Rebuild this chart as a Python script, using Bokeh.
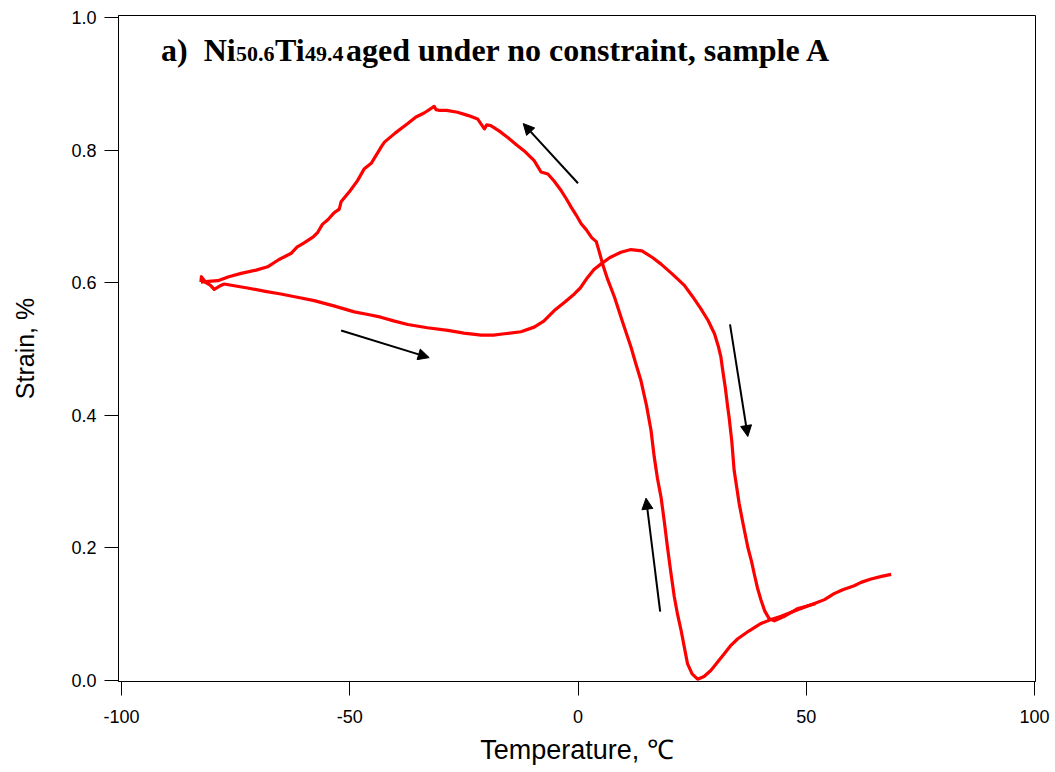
from bokeh.plotting import figure
from bokeh.models import Range1d, Label, Arrow, NormalHead, FixedTicker
from bokeh.embed import file_html
from bokeh.resources import INLINE

# Cooling branch (from high temperature back to low)
cool_T = [68.6, 66.5, 64.2, 62.0, 60.5, 58.0, 56.1, 54.0, 51.8, 49.0, 46.7, 44.5, 42.3,
          40.1, 37.5, 35.0, 33.5, 32.0, 30.5, 29.1, 27.6, 26.2, 25.0, 24.0, 23.3, 22.6,
          21.8, 21.1, 20.3, 19.6, 18.9, 18.2, 17.4, 16.7, 16.0, 15.0, 13.8, 12.7, 11.6,
          9.8, 8.0, 6.5, 5.4, 4.6, 4.0, 3.0, 1.8, 0.7, -0.4, -1.5, -2.6, -3.7, -5.2, -6.6,
          -8.1, -9.6, -11.5, -13.5, -15.4, -17.3, -19.1, -20.0, -20.5, -22.0, -24.0,
          -26.4, -28.8, -30.5, -31.1, -31.5, -33.7, -35.5, -37.3, -40.0, -42.4, -43.0,
          -45.3, -46.8, -48.3, -50.0, -51.9, -52.3, -53.5, -54.8, -56.0, -57.0, -58.0,
          -60.0, -61.5, -62.9, -65.5, -68.0, -70.5, -73.8, -76.5, -78.9, -81.0, -82.6]
cool_S = [0.160, 0.157, 0.153, 0.148, 0.143, 0.137, 0.131, 0.122, 0.116, 0.109, 0.103,
          0.097, 0.092, 0.086, 0.075, 0.063, 0.053, 0.040, 0.027, 0.015, 0.006, 0.002,
          0.010, 0.025, 0.050, 0.075, 0.100, 0.126, 0.165, 0.201, 0.240, 0.276, 0.305,
          0.337, 0.377, 0.415, 0.452, 0.477, 0.503, 0.540, 0.578, 0.605, 0.628, 0.648,
          0.662, 0.668, 0.680, 0.689, 0.702, 0.714, 0.727, 0.739, 0.753, 0.764, 0.767,
          0.784, 0.797, 0.808, 0.819, 0.829, 0.837, 0.838, 0.832, 0.847, 0.852, 0.857,
          0.860, 0.860, 0.861, 0.866, 0.856, 0.850, 0.840, 0.826, 0.812, 0.806, 0.780,
          0.772, 0.754, 0.738, 0.722, 0.711, 0.705, 0.695, 0.688, 0.676, 0.669, 0.660,
          0.654, 0.644, 0.635, 0.624, 0.619, 0.614, 0.609, 0.603, 0.602, 0.601]

# Heating branch (from low temperature up to high)
heat_T = [-82.6, -82.5, -81.5, -80.5, -79.7, -78.5, -77.5, -75.0, -72.4, -68.5, -65.1,
          -61.5, -57.8, -53.5, -49.0, -46.0, -43.2, -40.2, -37.3, -33.0, -28.5, -25.0,
          -21.2, -18.5, -16.1, -12.5, -9.6, -7.5, -5.2, -3.0, -0.8, 0.5, 2.1, 3.5, 5.0,
          7.0, 9.4, 11.6, 14.0, 16.3, 18.2, 20.5, 23.3, 25.0, 26.9, 28.5, 29.9, 30.7,
          31.3, 31.7, 32.3, 32.8, 33.1, 33.7, 34.2, 34.8, 35.3, 36.2, 37.2, 38.0, 38.6,
          39.3, 40.1, 40.9, 41.9, 43.0, 45.0, 47.0, 48.0, 50.0, 52.0]
heat_S = [0.601, 0.609, 0.600, 0.596, 0.590, 0.595, 0.598, 0.595, 0.592, 0.587, 0.583,
          0.578, 0.573, 0.565, 0.556, 0.552, 0.548, 0.542, 0.537, 0.532, 0.528, 0.524,
          0.521, 0.521, 0.523, 0.526, 0.533, 0.542, 0.558, 0.570, 0.583, 0.592, 0.608,
          0.620, 0.628, 0.638, 0.646, 0.650, 0.648, 0.638, 0.628, 0.614, 0.596, 0.580,
          0.561, 0.543, 0.523, 0.505, 0.488, 0.468, 0.440, 0.412, 0.397, 0.360, 0.317,
          0.290, 0.267, 0.235, 0.201, 0.180, 0.161, 0.140, 0.121, 0.105, 0.093, 0.090,
          0.096, 0.104, 0.108, 0.112, 0.116]

# Direction arrows: (tail T, tail S, head T, head S)
arrows = [(0.0, 0.750, -12.0, 0.840),
          (-51.9, 0.528, -32.6, 0.487),
          (33.3, 0.537, 37.2, 0.368),
          (18.0, 0.104, 14.9, 0.275)]

x_ticks = [-100, -50, 0, 50, 100]
x_tick_labels = ["-100", "-50", "0", "50", "100"]
y_ticks = [0.0, 0.2, 0.4, 0.6, 0.8, 1.0]
y_tick_labels = ["0.0", "0.2", "0.4", "0.6", "0.8", "1.0"]

p = figure(width=1055, height=772, output_backend="svg", toolbar_location=None,
           x_range=Range1d(-100.66, 100.22), y_range=Range1d(-0.0015, 1.003),
           min_border_left=118, min_border_right=20, min_border_top=15, min_border_bottom=91)
p.grid.visible = False
p.outline_line_color = "black"
p.outline_line_width = 1
p.background_fill_color = "white"
p.border_fill_color = "white"

p.line(cool_T, cool_S, line_color="#ff0000", line_width=3.2, line_join="round")
p.line(heat_T, heat_S, line_color="#ff0000", line_width=3.2, line_join="round")

for (x0, y0, x1, y1) in arrows:
    p.add_layout(Arrow(x_start=x0, y_start=y0, x_end=x1, y_end=y1, line_width=2,
                       line_color="black",
                       end=NormalHead(size=11, fill_color="black", line_color="black")))

for ax in (p.xaxis[0], p.yaxis[0]):
    ax.minor_tick_line_color = None
    ax.major_tick_out = 14
    ax.major_tick_in = 0
    ax.major_tick_line_color = "black"
    ax.axis_line_color = "black"
    ax.major_label_text_font = "Liberation Sans"
    ax.major_label_text_font_size = "18px"
    ax.major_label_text_color = "black"
    ax.axis_label_text_font = "Liberation Sans"
    ax.axis_label_text_font_style = "normal"
    ax.axis_label_text_color = "black"

p.xaxis.ticker = FixedTicker(ticks=x_ticks)
p.yaxis.ticker = FixedTicker(ticks=y_ticks)
p.xaxis.major_label_overrides = dict(zip(x_ticks, x_tick_labels))
p.yaxis.major_label_overrides = dict(zip(y_ticks, y_tick_labels))
p.xaxis.major_label_standoff = 14
p.yaxis.major_label_standoff = 8
p.xaxis.axis_label = "Temperature, \u2103"
p.yaxis.axis_label = "Strain, %"
p.xaxis.axis_label_text_font_size = "27px"
p.yaxis.axis_label_text_font_size = "25px"
p.xaxis.axis_label_standoff = 9
p.yaxis.axis_label_standoff = 29

# Title pieces (with subscripts)
def px2T(px):
    return (px - 577) / 4.565

base = 0.951
sub = base - 0.006
pieces = [("a)\u00a0\u00a0Ni", 160, base, 32),
          ("50.6", 235, sub, 22),
          ("Ti", 274, base, 32),
          ("49.4", 304, sub, 22),
          ("aged under no constraint, sample A", 345, base, 32)]
for txt, px, yy, fs in pieces:
    p.add_layout(Label(x=px2T(px), y=yy, text=txt, text_font="Liberation Serif",
                       text_font_style="bold", text_font_size=f"{fs}px",
                       text_color="black", text_baseline="alphabetic", text_align="left"))

open("out.html", "w").write(file_html(p, INLINE))
